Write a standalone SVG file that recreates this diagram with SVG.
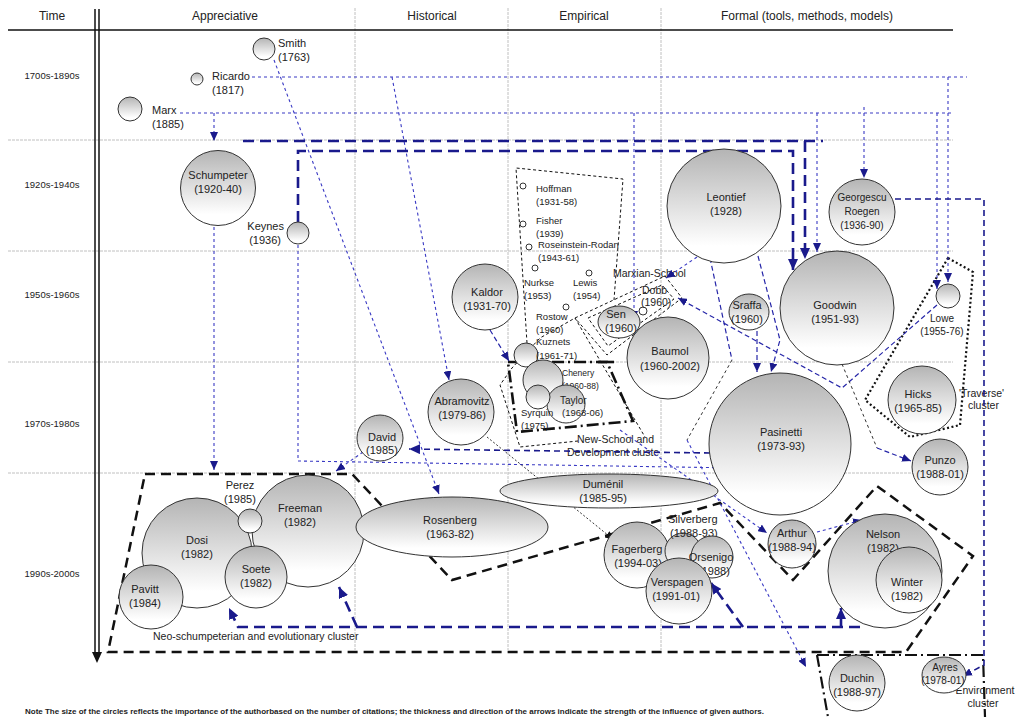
<svg xmlns="http://www.w3.org/2000/svg" width="1019" height="717" viewBox="0 0 1019 717">
<defs>
<linearGradient id="g" x1="0" y1="0" x2="0" y2="1">
<stop offset="0" stop-color="#b4b4b4"/><stop offset="0.85" stop-color="#ffffff"/><stop offset="1" stop-color="#ffffff"/>
</linearGradient>
<marker id="an" markerUnits="userSpaceOnUse" markerWidth="12" markerHeight="10" refX="11" refY="5" orient="auto"><path d="M0,0 L11,5 L0,10 z" fill="#1a1a8c"/></marker>
<marker id="at" markerUnits="userSpaceOnUse" markerWidth="10" markerHeight="8" refX="9" refY="4" orient="auto"><path d="M0,0 L9,4 L0,8 z" fill="#1a1a8c"/></marker>
<marker id="ak" markerUnits="userSpaceOnUse" markerWidth="10" markerHeight="8" refX="9" refY="4" orient="auto"><path d="M0,0 L9,4 L0,8 z" fill="#111"/></marker>
</defs>
<style>
text{font-family:"Liberation Sans",Arial,sans-serif;fill:#222}
.n circle,.n ellipse{fill:url(#g);stroke:#333;stroke-width:1}
.n text{font-size:11px;text-anchor:middle}
.s circle{fill:#fff;stroke:#333;stroke-width:1}
.s text{font-size:9.5px;text-anchor:start}
.hd{font-size:12px;text-anchor:middle}
.rw{font-size:9.5px;text-anchor:middle}
.grid{stroke:#c0c0c0;stroke-width:1;fill:none;stroke-dasharray:3 1}
.thin{fill:none;stroke:#3a3ac4;stroke-width:1.1;stroke-dasharray:3 3}
.med{fill:none;stroke:#1a1a8c;stroke-width:1.6;stroke-dasharray:6 4}
.mt{fill:none;stroke:#2626a8;stroke-width:1.2;stroke-dasharray:5 3}
.thk{fill:none;stroke:#1a1a8c;stroke-width:2.6;stroke-dasharray:11 6}
.blk{fill:none;stroke:#333;stroke-width:1;stroke-dasharray:3 3}
.cl{fill:none;stroke:#111;stroke-width:2.5;stroke-dasharray:10 6}
.cd{fill:none;stroke:#111;stroke-width:1;stroke-dasharray:3 2.5}
.lb{font-size:10.5px}
</style>
<rect width="1019" height="717" fill="#fff"/>
<g id="grid">
<line class="grid" x1="8" y1="140" x2="953" y2="140"/>
<line class="grid" x1="8" y1="251" x2="953" y2="251"/>
<line class="grid" x1="8" y1="362" x2="953" y2="362"/>
<line class="grid" x1="8" y1="473" x2="953" y2="473"/>
<line class="grid" x1="355" y1="8" x2="355" y2="650"/>
<line class="grid" x1="508" y1="8" x2="508" y2="650"/>
<line class="grid" x1="661" y1="8" x2="661" y2="650"/>
<line x1="8" y1="30" x2="953" y2="30" stroke="#111" stroke-width="1.5"/>
<line x1="95" y1="9" x2="95" y2="655" stroke="#111" stroke-width="1.5"/>
<line x1="99" y1="9" x2="99" y2="655" stroke="#111" stroke-width="1.5"/>
<path d="M92,652 L97,663 L102,652 z" fill="#111"/>
<text class="hd" x="52" y="20">Time</text>
<text class="hd" x="225" y="20">Appreciative</text>
<text class="hd" x="432" y="20">Historical</text>
<text class="hd" x="584" y="20">Empirical</text>
<text class="hd" x="807" y="20">Formal (tools, methods, models)</text>
<text class="rw" x="52" y="79">1700s-1890s</text>
<text class="rw" x="52" y="188">1920s-1940s</text>
<text class="rw" x="52" y="298">1950s-1960s</text>
<text class="rw" x="52" y="427">1970s-1980s</text>
<text class="rw" x="52" y="577">1990s-2000s</text>
</g>
<g id="clusters">
<path class="cl" d="M145,474 L352,474 L452,580 L720,503 L793,580 L877,486 L973,556 L906,652 L108,652 Z"/>
<path fill="none" stroke="#111" stroke-width="2.2" stroke-dasharray="2 2.5" d="M948,258 L973,272 L960,425 L910,437 L865,400 Z"/>
<path fill="none" stroke="#111" stroke-width="2.6" stroke-dasharray="12 4 2 4" d="M508,362 L607,362 L633,421 L517,432 Z"/>
<path fill="none" stroke="#111" stroke-width="2.6" d="M598,362 H614"/>
<path fill="none" stroke="#111" stroke-width="2.2" stroke-dasharray="12 4 2 4" d="M817,655 L983,655 L985,717 M817,655 L828,717"/>
<path class="cd" d="M527,343 L516,168 L623,179 L614,300"/>
<path class="cd" d="M578,441 L520,447 L500,385 L512,368 L540,338 L575,318 L645,437"/>
<path class="cd" d="M575,318 L665,276 L682,298 L607,355 Z"/>
<path class="cd" d="M588,318 L662,285 L674,299 L608,346 Z"/>
<text class="lb" x="613" y="277">Marxian-School</text>
<text class="lb" x="577" y="443">New-School and</text>
<text class="lb" x="567" y="456">Development cluste</text>
<text class="lb" x="959" y="397">'Traverse'</text>
<text class="lb" x="968" y="409">cluster</text>
<text class="lb" x="153" y="640">Neo-schumpeterian and evolutionary cluster</text>
<text class="lb" x="985" y="694" text-anchor="middle">Environment</text>
<text class="lb" x="983" y="707" text-anchor="middle">cluster</text>
</g>
<g id="connectors">
<path class="thin" d="M252,77 H967"/>
<path class="thin" d="M180,113 H953"/>
<path class="thin" d="M948,77 V282" marker-end="url(#at)"/>
<path class="thin" d="M392,77 L449,380" marker-end="url(#at)"/>
<path class="thin" d="M214,113 V141" marker-end="url(#at)"/>
<path class="thin" d="M634,113 V320" marker-end="url(#at)"/>
<path class="thin" d="M817,113 V252" marker-end="url(#at)"/>
<path class="thin" d="M864,107 V178" marker-end="url(#at)"/>
<path class="thin" d="M937,113 V289" marker-end="url(#at)"/>
<path class="thin" d="M274,60 L439,494" marker-end="url(#at)"/>
<path class="thin" d="M214,227 V470" marker-end="url(#at)"/>
<path class="thin" d="M298,245 V461 L738,468" marker-end="url(#at)"/>
<path class="thin" d="M363,452 L336,471" marker-end="url(#at)"/>
<path class="thk" d="M243,141 H823"/>
<path class="thk" d="M805,141 V259" marker-end="url(#an)"/>
<path class="thk" d="M298,222 V151 H793 V270" marker-end="url(#an)"/>
<path class="med" d="M895,199 H984 V665 L963,676" marker-end="url(#at)"/>
<path class="med" d="M710,453 L409,449" marker-end="url(#an)"/>
<path class="thin" d="M697,257 L666,278" marker-end="url(#at)"/>
<path class="mt" d="M758,256 L780,340 L771,372" marker-end="url(#at)"/>
<path class="mt" d="M757,331 V372" marker-end="url(#at)"/>
<path class="mt" d="M710,258 L732,360"/>
<path class="blk" d="M732,360 L687,440"/>
<path class="thin" d="M687,440 L806,667" marker-end="url(#at)"/>
<path class="mt" d="M937,305 L842,388 L678,298" marker-end="url(#at)"/>
<path class="blk" d="M842,364 L877,448"/>
<path class="mt" d="M877,448 L911,461" marker-end="url(#at)"/>
<path class="mt" d="M490,330 L509,361" marker-end="url(#at)"/>
<path class="blk" style="stroke-dasharray:2 2" d="M487,437 L614,540" marker-end="url(#ak)"/>
<path class="thin" d="M817,532 L862,520" marker-end="url(#at)"/>
<path class="thin" d="M620,430 L767,533" marker-end="url(#at)"/>
<path class="thk" d="M860,627 H238 L229,608" marker-end="url(#an)"/>
<path class="thk" d="M357,627 L339,587" marker-end="url(#an)"/>
<path class="thk" d="M743,627 L711,583" marker-end="url(#an)"/>
<path class="thk" d="M841,627 V608" marker-end="url(#an)"/>
</g>
<g id="smith" class="n"><circle cx="264" cy="49" r="11"/><text x="278" y="47" style="text-anchor:start">Smith</text><text x="278" y="61" style="text-anchor:start">(1763)</text></g>
<g id="ricardo" class="n"><circle cx="197" cy="79" r="6"/><text x="212" y="80" style="text-anchor:start">Ricardo</text><text x="212" y="94" style="text-anchor:start">(1817)</text></g>
<g id="marx" class="n"><circle cx="130" cy="109" r="12"/><text x="152" y="114" style="text-anchor:start">Marx</text><text x="152" y="128" style="text-anchor:start">(1885)</text></g>
<g id="schumpeter" class="n"><circle cx="218" cy="188" r="37.5"/><text x="218" y="179">Schumpeter</text><text x="218" y="193">(1920-40)</text></g>
<g id="keynes" class="n"><circle cx="298" cy="233" r="11"/><text x="284" y="230" style="text-anchor:end">Keynes</text><text x="281" y="244" style="text-anchor:end">(1936)</text></g>
<g id="leontief" class="n"><circle cx="724" cy="206" r="57"/><text x="726" y="201">Leontief</text><text x="726" y="215">(1928)</text></g>
<g id="georgescu" class="n"><circle cx="862" cy="212" r="33"/><text x="862" y="201" style="font-size:10px">Georgescu</text><text x="862" y="215" style="font-size:10px">Roegen</text><text x="862" y="229" style="font-size:10px">(1936-90)</text></g>
<g id="goodwin" class="n"><circle cx="837" cy="308" r="57"/><text x="835" y="309">Goodwin</text><text x="835" y="323">(1951-93)</text></g>
<g id="lowe" class="n"><circle cx="948" cy="296" r="12"/><text x="942" y="322" style="font-size:10px">Lowe</text><text x="942" y="335" style="font-size:10px">(1955-76)</text></g>
<g id="sraffa" class="n"><ellipse cx="749" cy="312" rx="20" ry="18"/><text x="747" y="309">Sraffa</text><text x="747" y="323">(1960)</text></g>
<g id="pasinetti" class="n"><circle cx="780" cy="444" r="71"/><text x="781" y="436">Pasinetti</text><text x="781" y="450">(1973-93)</text></g>
<g id="hicks" class="n"><circle cx="922" cy="400" r="34"/><text x="918" y="398">Hicks</text><text x="918" y="412">(1965-85)</text></g>
<g id="punzo" class="n"><circle cx="940" cy="467" r="28"/><text x="940" y="464">Punzo</text><text x="940" y="478">(1988-01)</text></g>
<g id="baumol" class="n"><circle cx="668" cy="358" r="41"/><text x="670" y="355">Baumol</text><text x="670" y="370">(1960-2002)</text></g>
<g id="sen" class="n"><ellipse cx="619" cy="322" rx="21" ry="16"/><text x="616" y="318">Sen</text><text x="621" y="332">(1960)</text></g>
<g id="dobb" class="s"><circle cx="643" cy="311" r="4"/><text x="642" y="294" style="font-size:10.5px">Dobb</text><text x="641" y="306" style="font-size:10.5px">(1960)</text></g>
<g id="kaldor" class="n"><circle cx="485" cy="297" r="33"/><text x="487" y="296">Kaldor</text><text x="487" y="310">(1931-70)</text></g>
<g id="abramovitz" class="n"><circle cx="461" cy="412" r="33"/><text x="462" y="405">Abramovitz</text><text x="462" y="419">(1979-86)</text></g>
<g id="david" class="n"><circle cx="380" cy="438" r="23"/><text x="382" y="441">David</text><text x="382" y="454">(1985)</text></g>
<g id="hoffman" class="s"><circle cx="523" cy="186" r="3"/><text x="536" y="192">Hoffman</text><text x="536" y="205">(1931-58)</text></g>
<g id="fisher" class="s"><circle cx="523" cy="224" r="3"/><text x="536" y="224">Fisher</text><text x="536" y="237">(1939)</text></g>
<g id="rosenstein" class="s"><circle cx="529" cy="247" r="3"/><text x="538" y="248">Roseinstein-Rodan</text><text x="538" y="261">(1943-61)</text></g>
<g id="nurkse" class="s"><circle cx="535" cy="268" r="3"/><text x="524" y="286">Nurkse</text><text x="524" y="299">(1953)</text></g>
<g id="lewis" class="s"><circle cx="589" cy="273" r="3"/><text x="573" y="286">Lewis</text><text x="573" y="299">(1954)</text></g>
<g id="rostow" class="s"><circle cx="566" cy="307" r="3"/><text x="536" y="320">Rostow</text><text x="536" y="333">(1960)</text></g>
<g id="kuznets" class="s"><circle cx="526" cy="355" r="12" style="fill:url(#g)"/><text x="536" y="345">Kuznets</text><text x="536" y="359">(1961-71)</text></g>
<g id="chenery" class="s"><circle cx="543" cy="380" r="20" style="fill:url(#g)"/><text x="562" y="376" style="font-size:8.5px">Chenery</text><text x="562" y="389" style="font-size:8.5px">(1960-88)</text></g>
<g id="taylor" class="s"><circle cx="566" cy="404" r="19" style="fill:url(#g)"/><text x="560" y="404" style="font-size:10px">Taylor</text><text x="562" y="416" style="font-size:9.5px">(1968-06)</text></g>
<g id="syrquin" class="s"><circle cx="538" cy="397" r="12" style="fill:url(#g)"/><text x="521" y="416">Syrquin</text><text x="521" y="429">(1975)</text></g>
<g id="dosi" class="n"><circle cx="197" cy="553" r="55"/><text x="197" y="544">Dosi</text><text x="197" y="558">(1982)</text></g>
<g id="freeman" class="n"><circle cx="308" cy="531" r="56"/><text x="300" y="512">Freeman</text><text x="300" y="526">(1982)</text></g>
<g id="perez" class="n"><circle cx="250" cy="521" r="12"/><text x="240" y="489">Perez</text><text x="240" y="503">(1985)</text></g>
<g id="soete" class="n"><circle cx="256" cy="577" r="31"/><text x="256" y="573">Soete</text><text x="256" y="587">(1982)</text></g>
<g id="pavitt" class="n"><circle cx="151" cy="597" r="32"/><text x="145" y="593">Pavitt</text><text x="145" y="607">(1984)</text></g>
<g id="rosenberg" class="n"><ellipse cx="452" cy="527" rx="96" ry="30"/><text x="450" y="524">Rosenberg</text><text x="450" y="538">(1963-82)</text></g>
<g id="dumenil" class="n"><ellipse cx="609" cy="491" rx="109" ry="17"/><text x="603" y="488">Duménil</text><text x="603" y="502">(1985-95)</text></g>
<g id="fagerberg" class="n"><circle cx="637" cy="555" r="33"/><text x="637" y="553">Fagerberg</text><text x="638" y="567">(1994-03)</text></g>
<g id="silverberg" class="n"><circle cx="683" cy="551" r="18"/><text x="668" y="523" style="text-anchor:start">Silverberg</text><text x="670" y="537" style="text-anchor:start">(1988-93)</text></g>
<g id="orsenigo" class="n"><circle cx="712" cy="557" r="21"/><text x="711" y="561">Orsenigo</text><text x="714" y="575">(1988)</text></g>
<g id="verspagen" class="n"><circle cx="679" cy="591" r="33"/><text x="677" y="586">Verspagen</text><text x="676" y="600">(1991-01)</text></g>
<g id="arthur" class="n"><circle cx="792" cy="544" r="24"/><text x="792" y="537">Arthur</text><text x="792" y="551">(1988-94)</text></g>
<g id="nelson" class="n"><circle cx="885" cy="571" r="57"/><text x="883" y="538">Nelson</text><text x="883" y="552">(1982)</text></g>
<g id="winter" class="n"><circle cx="909" cy="580" r="33"/><text x="907" y="586">Winter</text><text x="907" y="600">(1982)</text></g>
<g id="duchin" class="n"><circle cx="857" cy="683" r="28"/><text x="857" y="682">Duchin</text><text x="857" y="696">(1988-97)</text></g>
<g id="ayres" class="n"><ellipse cx="944" cy="675" rx="22" ry="18"/><text x="945" y="671" style="font-size:10px">Ayres</text><text x="943" y="684" style="font-size:10px">(1978-01)</text></g>
<text x="25" y="714" style="font-size:7.5px;font-weight:bold" textLength="739" lengthAdjust="spacingAndGlyphs">Note The size of the circles reflects the importance of the authorbased on the number of citations; the thickness and direction of the arrows indicate the strength of the influence of given authors.</text>
</svg>
